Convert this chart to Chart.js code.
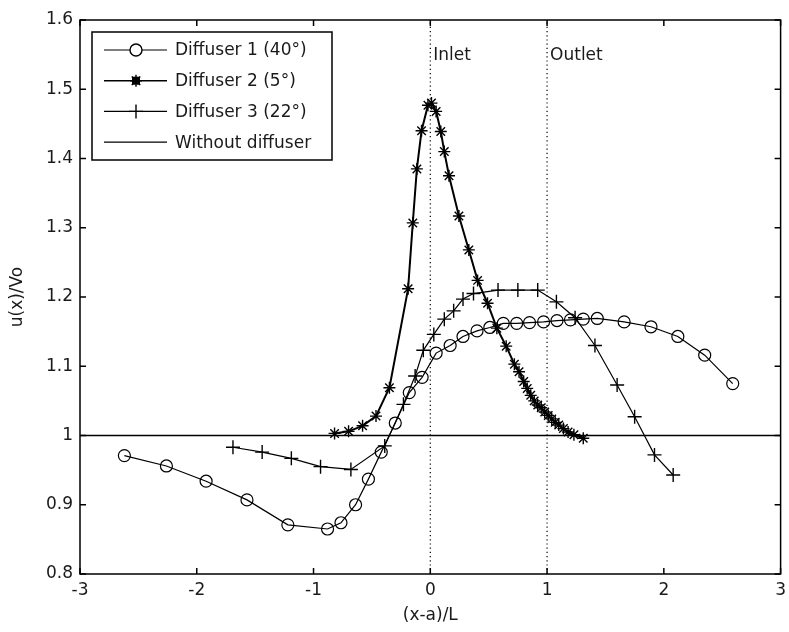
<!DOCTYPE html>
<html>
<head>
<meta charset="utf-8">
<script src="https://cdn.jsdelivr.net/npm/chart.js@4.4.1/dist/chart.umd.min.js"></script>
<style>
  html, body { margin: 0; padding: 0; background: #fff; }
</style>
</head>
<body>
<canvas id="diffChart" width="789" height="632"></canvas>
<script>
// Diffuser 1 (40°)
var d1X = [-2.62, -2.26, -1.92, -1.57, -1.22, -0.88, -0.765, -0.64, -0.53, -0.42, -0.30, -0.18, -0.07, 0.05, 0.17, 0.28, 0.40, 0.51, 0.625, 0.74, 0.85, 0.97, 1.085, 1.20, 1.31, 1.43, 1.66, 1.89, 2.12, 2.35, 2.59];
var d1Y = [0.971, 0.956, 0.934, 0.907, 0.871, 0.865, 0.874, 0.900, 0.937, 0.976, 1.018, 1.062, 1.084, 1.119, 1.130, 1.143, 1.151, 1.156, 1.162, 1.162, 1.163, 1.164, 1.166, 1.167, 1.168, 1.169, 1.164, 1.157, 1.143, 1.116, 1.075];

// Diffuser 2 (5°)
var d2X = [-0.82, -0.70, -0.58, -0.465, -0.35, -0.19, -0.15, -0.115, -0.075, -0.02, 0.01, 0.05, 0.09, 0.12, 0.16, 0.245, 0.33, 0.405, 0.49, 0.57, 0.65, 0.72, 0.76, 0.80, 0.83, 0.86, 0.89, 0.92, 0.95, 0.98, 1.01, 1.04, 1.07, 1.10, 1.14, 1.18, 1.23, 1.31];
var d2Y = [1.003, 1.006, 1.014, 1.028, 1.069, 1.212, 1.307, 1.385, 1.440, 1.477, 1.480, 1.468, 1.439, 1.410, 1.375, 1.317, 1.268, 1.224, 1.191, 1.155, 1.129, 1.103, 1.092, 1.078, 1.068, 1.058, 1.050, 1.044, 1.040, 1.034, 1.029, 1.024, 1.019, 1.015, 1.010, 1.005, 1.001, 0.996];

// Diffuser 3 (22°)
var d3X = [-1.69, -1.44, -1.19, -0.94, -0.68, -0.39, -0.23, -0.13, -0.06, 0.03, 0.12, 0.20, 0.28, 0.37, 0.58, 0.75, 0.92, 1.08, 1.24, 1.41, 1.60, 1.75, 1.92, 2.08];
var d3Y = [0.983, 0.976, 0.967, 0.955, 0.951, 0.985, 1.045, 1.086, 1.123, 1.146, 1.168, 1.180, 1.197, 1.205, 1.210, 1.210, 1.210, 1.193, 1.170, 1.130, 1.073, 1.027, 0.972, 0.943];

// Without diffuser
var baseX = [-3, 3];
var baseY = [1, 1];

// inlet / outlet positions
var markX = [0, 1];
var markLabels = ['Inlet', 'Outlet'];

var xTicks = [-3, -2, -1, 0, 1, 2, 3];
var yTicks = [0.8, 0.9, 1.0, 1.1, 1.2, 1.3, 1.4, 1.5, 1.6];

var legendNames = ['Diffuser 1 (40°)', 'Diffuser 2 (5°)', 'Diffuser 3 (22°)', 'Without diffuser'];

function pts(xs, ys) {
  return xs.map(function (v, i) { return { x: v, y: ys[i] }; });
}

var FONT = 'DejaVu Sans';
Chart.defaults.font.family = FONT;
Chart.defaults.font.size = 17;
Chart.defaults.color = '#1a1a1a';

var datasets = [
  { data: pts(d1X, d1Y), borderColor: '#000', borderWidth: 1.2, pointStyle: 'circle', pointRadius: 6, pointBorderWidth: 1.2, pointBackgroundColor: 'rgba(0,0,0,0)', pointBorderColor: '#000' },
  { data: pts(d2X, d2Y), borderColor: '#000', borderWidth: 2, pointStyle: 'star', pointRadius: 6, pointBorderWidth: 1.4, pointBackgroundColor: '#000', pointBorderColor: '#000' },
  { data: pts(d3X, d3Y), borderColor: '#000', borderWidth: 1.2, pointStyle: 'cross', pointRadius: 7, pointBorderWidth: 1.4, pointBorderColor: '#000' },
  { data: pts(baseX, baseY), borderColor: '#000', borderWidth: 1.5, pointRadius: 0 }
];
// dotted inlet / outlet lines
markX.forEach(function (v) {
  datasets.push({ data: pts([v, v], [0.8, 1.6]), borderColor: '#000', borderWidth: 1.2, borderDash: [1.2, 3], pointRadius: 0 });
});

function drawMarker(ctx, style, x, y) {
  ctx.beginPath();
  if (style === 'circle') {
    ctx.arc(x, y, 6, 0, Math.PI * 2);
  } else if (style === 'star') {
    var r = 6, d = r * 0.7071;
    ctx.moveTo(x - r, y); ctx.lineTo(x + r, y);
    ctx.moveTo(x, y - r); ctx.lineTo(x, y + r);
    ctx.moveTo(x - d, y - d); ctx.lineTo(x + d, y + d);
    ctx.moveTo(x - d, y + d); ctx.lineTo(x + d, y - d);
  } else if (style === 'cross') {
    ctx.moveTo(x - 7, y); ctx.lineTo(x + 7, y);
    ctx.moveTo(x, y - 7); ctx.lineTo(x, y + 7);
  }
  ctx.stroke();
}

var matlabBox = {
  id: 'matlabBox',
  afterDraw: function (chart) {
    var ctx = chart.ctx, a = chart.chartArea;
    var xs = chart.scales.x, ys = chart.scales.y;
    ctx.save();
    ctx.strokeStyle = '#000';
    ctx.lineWidth = 1.5;
    ctx.strokeRect(a.left, a.top, a.right - a.left, a.bottom - a.top);

    // inward ticks on all four sides
    ctx.beginPath();
    xTicks.forEach(function (v) {
      var px = xs.getPixelForValue(v);
      ctx.moveTo(px, a.bottom); ctx.lineTo(px, a.bottom - 6);
      ctx.moveTo(px, a.top); ctx.lineTo(px, a.top + 6);
    });
    yTicks.forEach(function (v) {
      var py = ys.getPixelForValue(v);
      ctx.moveTo(a.left, py); ctx.lineTo(a.left + 6, py);
      ctx.moveTo(a.right, py); ctx.lineTo(a.right - 6, py);
    });
    ctx.stroke();

    // inlet / outlet labels
    ctx.fillStyle = '#1a1a1a';
    ctx.font = '17px ' + FONT;
    ctx.textBaseline = 'middle';
    ctx.textAlign = 'left';
    markX.forEach(function (v, i) {
      ctx.fillText(markLabels[i], xs.getPixelForValue(v) + 3, ys.getPixelForValue(1.549));
    });

    // legend box
    var lx = 92, ly = 32, lw = 240, lh = 128;
    ctx.fillStyle = '#fff';
    ctx.fillRect(lx, ly, lw, lh);
    ctx.lineWidth = 1.5;
    ctx.strokeRect(lx, ly, lw, lh);
    var styles = ['circle', 'star', 'cross', null];
    legendNames.forEach(function (name, i) {
      var yy = ly + 18 + i * 30.7;
      ctx.lineWidth = i === 1 ? 1.6 : 1.2;
      ctx.beginPath();
      ctx.moveTo(lx + 12, yy); ctx.lineTo(lx + 75, yy);
      ctx.stroke();
      if (styles[i]) {
        ctx.lineWidth = 1.4;
        if (styles[i] === 'circle') {
          ctx.fillStyle = '#fff';
          ctx.beginPath(); ctx.arc(lx + 44, yy, 6, 0, Math.PI * 2); ctx.fill();
        }
        drawMarker(ctx, styles[i], lx + 44, yy);
        if (styles[i] === 'star') {
          ctx.fillStyle = '#000';
          ctx.fillRect(lx + 40, yy - 4, 8, 8);
        }
      }
      ctx.fillStyle = '#1a1a1a';
      ctx.fillText(name, lx + 83, yy + 1);
    });
    ctx.restore();
  }
};

var ctx = document.getElementById('diffChart').getContext('2d');
var diffChart = new Chart(ctx, {
  type: 'line',
  data: { datasets: datasets },
  options: {
    responsive: false,
    devicePixelRatio: 1,
    animation: false,
    layout: { padding: { left: 0, right: 3, top: 20, bottom: 0 } },
    plugins: { legend: { display: false }, tooltip: { enabled: false } },
    elements: { line: { tension: 0, fill: false } },
    scales: {
      x: {
        type: 'linear', min: -3, max: 3,
        grid: { display: false, drawTicks: false },
        border: { display: false },
        ticks: { padding: 6, color: '#1a1a1a' },
        afterBuildTicks: function (s) { s.ticks = xTicks.map(function (v) { return { value: v }; }); },
        afterFit: function (s) { s.height = 58; s.paddingLeft = 0; s.paddingRight = 0; },
        title: { display: true, text: '(x-a)/L', color: '#1a1a1a', padding: { top: 0, bottom: 6 } }
      },
      y: {
        type: 'linear', min: 0.8, max: 1.6,
        grid: { display: false, drawTicks: false },
        border: { display: false },
        ticks: {
          padding: 7, color: '#1a1a1a',
          callback: function (v) { return String(parseFloat(v.toFixed(1))); }
        },
        afterBuildTicks: function (s) { s.ticks = yTicks.map(function (v) { return { value: v }; }); },
        afterFit: function (s) { s.width = 80; s.paddingTop = 0; s.paddingBottom = 0; },
        title: { display: true, text: 'u(x)/Vo', color: '#1a1a1a', padding: { top: 7, bottom: 0 } }
      }
    }
  },
  plugins: [matlabBox]
});
</script>
</body>
</html>
